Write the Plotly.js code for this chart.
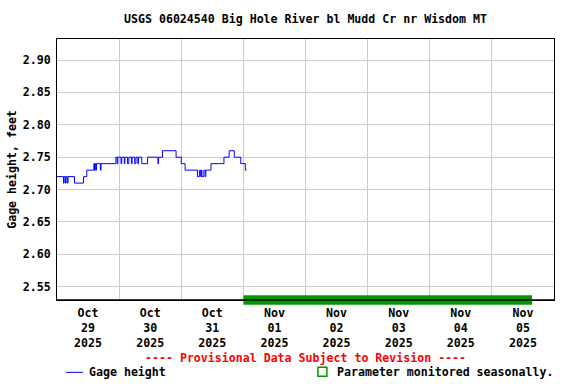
<!DOCTYPE html>
<html>
<head>
<meta charset="utf-8">
<script src="https://cdn.plot.ly/plotly-3.0.1.min.js"></script>
<style>html,body{margin:0;padding:0;background:#fff;}#chart{width:576px;height:384px;}</style>
</head>
<body>
<div id="chart"></div>
<script>
// Gage height change points (15-minute data, step line)
const times = [
  "2025-10-29 00:00","2025-10-29 02:30","2025-10-29 02:45","2025-10-29 03:15","2025-10-29 03:30",
  "2025-10-29 04:00","2025-10-29 04:15","2025-10-29 06:45","2025-10-29 10:15","2025-10-29 11:30",
  "2025-10-29 14:15","2025-10-29 14:30","2025-10-29 14:45","2025-10-29 15:00","2025-10-29 15:15",
  "2025-10-29 16:45","2025-10-29 17:00","2025-10-29 22:45","2025-10-29 23:15","2025-10-29 23:30",
  "2025-10-30 00:45","2025-10-30 01:00","2025-10-30 02:00","2025-10-30 02:15","2025-10-30 03:15",
  "2025-10-30 03:45","2025-10-30 04:45","2025-10-30 05:00","2025-10-30 06:00","2025-10-30 06:30",
  "2025-10-30 07:15","2025-10-30 07:30","2025-10-30 08:45","2025-10-30 11:00","2025-10-30 15:00",
  "2025-10-30 15:15","2025-10-30 16:45","2025-10-30 22:00",
  "2025-10-31 00:00","2025-10-31 01:30","2025-10-31 06:15","2025-10-31 07:00","2025-10-31 07:30",
  "2025-10-31 07:45","2025-10-31 08:00","2025-10-31 08:45","2025-10-31 09:15","2025-10-31 09:30",
  "2025-10-31 11:30","2025-10-31 16:30","2025-10-31 18:30","2025-10-31 20:30","2025-10-31 23:00",
  "2025-11-01 00:45","2025-11-01 01:15"
];
const gageHeight = [
  2.72,2.71,2.72,2.71,2.72,
  2.71,2.72,2.71,2.72,2.73,
  2.74,2.73,2.74,2.73,2.74,
  2.73,2.74,2.75,2.74,2.75,
  2.74,2.75,2.74,2.75,2.74,
  2.75,2.74,2.75,2.74,2.75,
  2.74,2.75,2.74,2.75,2.74,
  2.75,2.76,2.75,
  2.74,2.73,2.72,2.73,2.72,
  2.73,2.72,2.73,2.72,2.73,
  2.74,2.75,2.76,2.75,2.74,
  2.73,2.73
];

// Axis ticks
const gridDays = ["2025-10-30","2025-10-31","2025-11-01","2025-11-02","2025-11-03","2025-11-04","2025-11-05"];
const labelDays = ["2025-10-29 12:00","2025-10-30 12:00","2025-10-31 12:00","2025-11-01 12:00",
                   "2025-11-02 12:00","2025-11-03 12:00","2025-11-04 12:00","2025-11-05 12:00"];
const labelText = ["Oct<br>29<br>2025","Oct<br>30<br>2025","Oct<br>31<br>2025","Nov<br>01<br>2025",
                   "Nov<br>02<br>2025","Nov<br>03<br>2025","Nov<br>04<br>2025","Nov<br>05<br>2025"];
const yTicks = [2.55,2.60,2.65,2.70,2.75,2.80,2.85,2.90];
const xRange = ["2025-10-29 00:00","2025-11-06 00:00"];
const yRange = [2.5295,2.9325];

// Seasonal monitoring period bar
const seasonalStart = "2025-11-01 00:00";
const seasonalEnd = "2025-11-05 15:30";

const F = "DejaVu Sans Mono, Liberation Mono, monospace";
const font = {family: F, size: 11.6, color: "#000", weight: "bold"};

const data = [
  {x: times, y: gageHeight, type: "scatter", mode: "lines",
   line: {color: "#0000ff", width: 1, shape: "hv"}, hoverinfo: "skip", xaxis: "x", yaxis: "y"},
  {x: [], y: [], type: "scatter", mode: "lines", xaxis: "x2", yaxis: "y", hoverinfo: "skip"}
];

const layout = {
  width: 576, height: 384,
  margin: {l: 57, r: 22, t: 39, b: 84},
  paper_bgcolor: "#fff", plot_bgcolor: "#fff",
  showlegend: false,
  font: font,
  title: {text: "USGS 06024540 Big Hole River bl Mudd Cr nr Wisdom MT", font: font,
          x: 0.5, xref: "paper", xanchor: "center", y: 1 - 19/384, yref: "container", yanchor: "middle"},
  xaxis: {type: "date", range: xRange, tickmode: "array", tickvals: gridDays, showticklabels: false,
          showgrid: true, gridcolor: "#cccccc", gridwidth: 1, zeroline: false, ticks: "",
          showline: true, mirror: true, linecolor: "#000", linewidth: 1},
  xaxis2: {type: "date", range: xRange, overlaying: "x", side: "bottom", anchor: "y",
           tickmode: "array", tickvals: labelDays, ticktext: labelText, showgrid: false,
           zeroline: false, ticks: "", showline: false, tickfont: font, ticklabelstandoff: 4},
  yaxis: {range: yRange, tickmode: "array", tickvals: yTicks, tickformat: ".2f",
          showgrid: true, gridcolor: "#cccccc", gridwidth: 1, zeroline: false, ticks: "",
          showline: true, mirror: true, linecolor: "#000", linewidth: 1, tickfont: font,
          ticklabelstandoff: 3,
          title: {text: "Gage height, feet", font: font, standoff: 3}},
  shapes: [
    {type: "rect", xref: "x", yref: "paper", x0: seasonalStart, x1: seasonalEnd,
     y0: -0.018, y1: 0.018, fillcolor: "#009a00", line: {width: 0}, layer: "above"},
    {type: "line", xref: "paper", yref: "paper", x0: 0, x1: 1, y0: 0, y1: 0,
     line: {color: "#000", width: 1.5}, layer: "above"},
    {type: "line", xref: "paper", yref: "paper", x0: 0.0181, x1: 0.0523, y0: -0.2772, y1: -0.2772,
     line: {color: "#0000ff", width: 1}},
    {type: "rect", xref: "paper", yref: "paper", x0: 0.525, x1: 0.543, y0: -0.2925, y1: -0.258,
     line: {color: "#009a00", width: 1.5}, fillcolor: "rgba(0,0,0,0)"}
  ],
  annotations: [
    {text: "---- Provisional Data Subject to Revision ----", xref: "paper", yref: "paper",
     x: 0.5, y: -0.2237, xanchor: "center", yanchor: "middle", showarrow: false,
     font: {family: F, size: 11.6, color: "#ff0000", weight: "bold"}},
    {text: "Gage height", xref: "paper", yref: "paper", x: 0.0604, y: -0.2772,
     xanchor: "left", yanchor: "middle", showarrow: false, font: font},
    {text: "Parameter monitored seasonally.", xref: "paper", yref: "paper", x: 0.5594, y: -0.2772,
     xanchor: "left", yanchor: "middle", showarrow: false, font: font}
  ]
};

Plotly.newPlot("chart", data, layout, {staticPlot: true, displayModeBar: false});
</script>
</body>
</html>
